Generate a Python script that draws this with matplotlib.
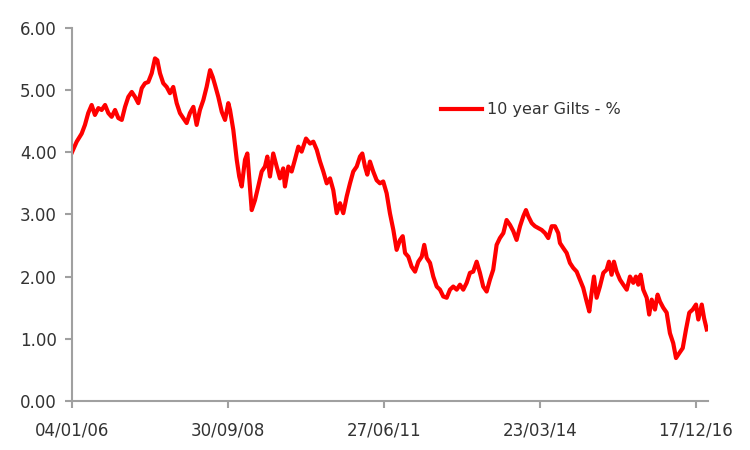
import matplotlib
matplotlib.use("Agg")
import matplotlib.pyplot as plt
import matplotlib.dates as mdates
import pandas as pd

# 10 year gilt yield
dates = [
    "2006-01-04", "2006-02-03", "2006-03-07", "2006-03-28", "2006-04-18", "2006-05-10",
    "2006-05-31", "2006-06-22", "2006-07-13", "2006-08-04", "2006-08-25", "2006-09-15",
    "2006-10-07", "2006-10-28", "2006-11-19", "2006-12-10", "2006-12-31", "2007-01-22",
    "2007-02-12", "2007-03-05", "2007-03-27", "2007-04-17", "2007-05-08", "2007-05-30",
    "2007-06-20", "2007-07-05", "2007-07-22", "2007-08-12", "2007-09-03", "2007-09-24",
    "2007-10-15", "2007-11-06", "2007-11-27", "2007-12-18", "2008-01-09", "2008-01-30",
    "2008-02-21", "2008-03-13", "2008-04-03", "2008-04-25", "2008-05-16", "2008-06-07",
    "2008-06-24", "2008-07-09", "2008-07-30", "2008-08-21", "2008-09-11", "2008-10-02",
    "2008-10-13", "2008-11-03", "2008-11-25", "2008-12-11", "2008-12-27", "2009-01-17",
    "2009-02-01", "2009-02-14", "2009-03-01", "2009-03-22", "2009-04-12", "2009-05-04",
    "2009-05-25", "2009-06-09", "2009-06-26", "2009-07-17", "2009-08-08", "2009-08-29",
    "2009-09-19", "2009-09-30", "2009-10-22", "2009-11-12", "2009-12-03", "2009-12-25",
    "2010-01-15", "2010-02-12", "2010-03-10", "2010-03-31", "2010-04-22", "2010-05-13",
    "2010-06-03", "2010-06-25", "2010-07-16", "2010-08-06", "2010-08-28", "2010-09-18",
    "2010-10-09", "2010-10-31", "2010-11-21", "2010-12-12", "2011-01-03", "2011-01-24",
    "2011-02-08", "2011-02-25", "2011-03-12", "2011-03-29", "2011-04-19", "2011-05-11",
    "2011-06-01", "2011-06-22", "2011-07-14", "2011-08-04", "2011-08-26", "2011-09-16",
    "2011-10-08", "2011-10-25", "2011-11-09", "2011-11-30", "2011-12-21", "2012-01-12",
    "2012-02-02", "2012-02-24", "2012-03-11", "2012-03-27", "2012-04-17", "2012-05-08",
    "2012-05-30", "2012-06-20", "2012-07-11", "2012-08-02", "2012-08-23", "2012-09-13",
    "2012-10-05", "2012-10-26", "2012-11-16", "2012-12-08", "2012-12-29", "2013-01-19",
    "2013-02-10", "2013-03-03", "2013-03-24", "2013-04-15", "2013-05-06", "2013-05-27",
    "2013-06-18", "2013-07-09", "2013-07-31", "2013-08-21", "2013-09-12", "2013-10-03",
    "2013-10-24", "2013-11-15", "2013-12-06", "2013-12-23", "2014-01-07", "2014-01-29",
    "2014-02-19", "2014-03-12", "2014-04-03", "2014-04-24", "2014-05-15", "2014-06-06",
    "2014-06-27", "2014-07-18", "2014-07-29", "2014-08-19", "2014-09-10", "2014-10-01",
    "2014-10-22", "2014-11-13", "2014-12-04", "2014-12-25", "2015-01-16", "2015-02-02",
    "2015-02-17", "2015-03-04", "2015-03-21", "2015-04-11", "2015-05-03", "2015-05-24",
    "2015-06-08", "2015-06-25", "2015-07-10", "2015-07-27", "2015-08-18", "2015-09-08",
    "2015-09-30", "2015-10-21", "2015-11-11", "2015-11-28", "2015-12-13", "2015-12-28",
    "2016-01-14", "2016-02-05", "2016-02-21", "2016-03-08", "2016-03-29", "2016-04-15",
    "2016-04-30", "2016-05-21", "2016-06-12", "2016-07-03", "2016-07-24", "2016-08-11",
    "2016-09-01", "2016-09-23", "2016-10-14", "2016-11-04", "2016-11-26", "2016-12-17",
    "2017-01-01", "2017-01-23", "2017-02-07", "2017-02-24",
]
gilts = [
    4.00, 4.17, 4.30, 4.44, 4.63, 4.76,
    4.60, 4.71, 4.68, 4.76, 4.63, 4.57,
    4.68, 4.55, 4.52, 4.73, 4.89, 4.97,
    4.89, 4.79, 5.03, 5.11, 5.13, 5.27,
    5.51, 5.48, 5.27, 5.11, 5.05, 4.95,
    5.05, 4.79, 4.63, 4.55, 4.47, 4.63,
    4.73, 4.44, 4.68, 4.84, 5.05, 5.32,
    5.21, 5.08, 4.89, 4.65, 4.52, 4.79,
    4.68, 4.36, 3.88, 3.61, 3.45, 3.88,
    3.98, 3.55, 3.07, 3.23, 3.45, 3.69,
    3.77, 3.93, 3.61, 3.98, 3.77, 3.58,
    3.74, 3.45, 3.77, 3.69, 3.88, 4.09,
    4.01, 4.22, 4.14, 4.17, 4.04, 3.85,
    3.69, 3.50, 3.58, 3.39, 3.02, 3.18,
    3.02, 3.29, 3.50, 3.69, 3.77, 3.93,
    3.98, 3.77, 3.64, 3.85, 3.69, 3.55,
    3.50, 3.53, 3.34, 3.02, 2.75, 2.43,
    2.59, 2.65, 2.38, 2.32, 2.16, 2.08,
    2.24, 2.32, 2.51, 2.30, 2.22, 2.00,
    1.84, 1.79, 1.68, 1.66, 1.79, 1.84,
    1.79, 1.87, 1.79, 1.90, 2.06, 2.08,
    2.24, 2.06, 1.84, 1.76, 1.95, 2.11,
    2.51, 2.62, 2.70, 2.91, 2.83, 2.73,
    2.59, 2.81, 2.97, 3.07, 2.97, 2.86,
    2.81, 2.78, 2.75, 2.70, 2.62, 2.81,
    2.81, 2.70, 2.54, 2.46, 2.38, 2.22,
    2.14, 2.08, 1.95, 1.82, 1.60, 1.44,
    1.74, 2.00, 1.66, 1.84, 2.06, 2.11,
    2.24, 2.03, 2.24, 2.08, 1.95, 1.87,
    1.79, 2.00, 1.90, 2.00, 1.87, 2.03,
    1.79, 1.66, 1.39, 1.63, 1.47, 1.71,
    1.60, 1.50, 1.42, 1.09, 0.93, 0.69,
    0.77, 0.85, 1.15, 1.42, 1.47, 1.55,
    1.31, 1.55, 1.33, 1.15,
]
tick_dates = ["2006-01-04", "2008-09-30", "2011-06-27", "2014-03-23", "2016-12-17"]
y_ticks = [0, 1, 2, 3, 4, 5, 6]
label = "10 year Gilts - %"

x = pd.to_datetime(dates)
ticks = pd.to_datetime(tick_dates)

fig = plt.figure(figsize=(7.5, 4.5), dpi=100)
ax = fig.add_axes([0.096, 0.109, 0.848, 0.829])

ax.plot(x, gilts, color="#ff0000", lw=3.0, solid_joinstyle="round", label=label)

ax.set_ylim(0, 6)
ax.set_yticks(y_ticks)
ax.yaxis.set_major_formatter(plt.FormatStrFormatter("%.2f"))
ax.set_xlim(x[0], x[-1] + pd.Timedelta(days=8))
ax.set_xticks(ticks)
ax.xaxis.set_major_formatter(mdates.DateFormatter("%d/%m/%y"))

for side in ["top", "right"]:
    ax.spines[side].set_visible(False)
for side in ["left", "bottom"]:
    ax.spines[side].set_color("#a0a0a0")
    ax.spines[side].set_linewidth(1.5)
ax.tick_params(axis="both", direction="out", length=5, width=1.5, color="#a0a0a0",
               labelsize=12, labelcolor="#333333")
ax.tick_params(axis="x", pad=10)
ax.tick_params(axis="y", pad=6)

fig.legend(loc="center left", bbox_to_anchor=(0.577, 0.756), frameon=False,
           fontsize=11.5, handlelength=2.6, handletextpad=0.3, borderpad=0,
           labelcolor="#333333")

fig.savefig("out.png", dpi=100)
